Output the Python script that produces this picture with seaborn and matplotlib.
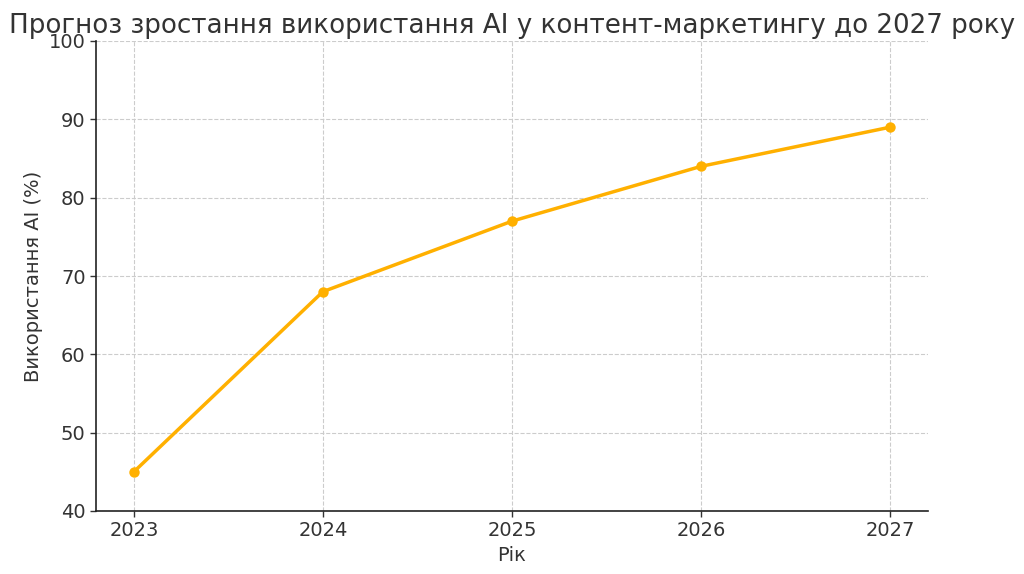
import matplotlib
matplotlib.use('Agg')

import matplotlib.pyplot as plt
import pandas as pd
import seaborn as sns

# --- дані ---
years = [2023, 2024, 2025, 2026, 2027]
usage = [45, 68, 77, 84, 89]
title = 'Прогноз зростання використання AI у контент-маркетингу до 2027 року'
x_label = 'Рік'
y_label = 'Використання AI (%)'


def main():
    sns.set_theme(style='whitegrid')
    plt.rcParams['font.family'] = ['DejaVu Sans']
    plt.rcParams['text.color'] = '#333333'
    plt.rcParams['axes.labelcolor'] = '#333333'
    plt.rcParams['xtick.color'] = '#333333'
    plt.rcParams['ytick.color'] = '#333333'

    df = pd.DataFrame({'year': years, 'usage': usage})

    fig = plt.figure(figsize=(10.24, 5.74), dpi=100)
    ax = fig.add_axes([96 / 1024, 1 - 511 / 574, (928 - 96) / 1024, (511 - 41) / 574])

    sns.lineplot(data=df, x='year', y='usage', ax=ax, color='#FFB000',
                 linewidth=2.5, marker='o', markersize=7.5, markeredgewidth=0)

    ax.set_xlim(2022.8, 2027.2)
    ax.set_ylim(40, 100)
    ax.set_xticks(years)
    ax.set_xticklabels([str(y) for y in years])

    ax.set_title(title, fontsize=18.8, pad=6, color='#333333')
    ax.set_xlabel(x_label, fontsize=14)
    ax.set_ylabel(y_label, fontsize=14)
    ax.tick_params(axis='both', labelsize=14, direction='out', length=4,
                   width=1, bottom=True, left=True, color='#333333')

    ax.grid(True, linestyle='--', linewidth=0.8, color='#cccccc')
    for side in ['top', 'right']:
        ax.spines[side].set_visible(False)
    for side in ['left', 'bottom']:
        ax.spines[side].set_color('#222222')
        ax.spines[side].set_linewidth(1.2)

    fig.savefig('out.png', dpi=100)
    plt.close(fig)


if __name__ == '__main__':
    main()
